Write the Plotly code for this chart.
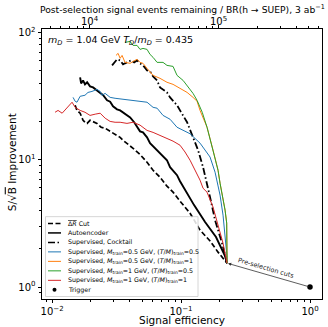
import numpy as np
import plotly.graph_objects as go

# ---------------- data ----------------
dr_cut_eff = [0.0151, 0.0156, 0.0165, 0.0174, 0.0180, 0.0187, 0.0197, 0.0208, 0.0223, 0.0240,
              0.0258, 0.0282, 0.0297, 0.0319, 0.0337, 0.0355, 0.0381, 0.0425, 0.0481, 0.0545,
              0.0607, 0.0687, 0.0778, 0.0867, 0.0982, 0.1175, 0.1404, 0.1679, 0.1936, 0.2195, 0.2275]
dr_cut_sig = [26.8, 24.4, 23.2, 20.4, 19.7, 19.3, 20.4, 20.0, 19.3, 18.0,
              17.7, 16.7, 16.2, 15.6, 15.0, 14.2, 13.5, 12.3, 11.0, 9.55,
              8.27, 7.29, 6.20, 5.56, 4.73, 3.80, 2.80, 2.30, 1.88, 1.63, 1.54]

autoenc_eff = [0.0165, 0.0168, 0.0174, 0.0180, 0.0187, 0.0197, 0.0208, 0.0223, 0.0236, 0.0249,
               0.0267, 0.0282, 0.0297, 0.0319, 0.0337, 0.0355, 0.0381, 0.0403, 0.0433, 0.0456,
               0.0481, 0.0507, 0.0545, 0.0575, 0.0607, 0.0652, 0.0687, 0.0778, 0.0822, 0.0931,
               0.0982, 0.1114, 0.1262, 0.1536, 0.1867, 0.2195, 0.2275]
autoenc_sig = [44.4, 39.8, 42.0, 39.1, 40.6, 37.7, 37.0, 35.1, 33.2, 32.1,
               29.3, 28.6, 26.3, 24.9, 24.4, 23.6, 22.3, 21.5, 19.7, 18.0,
               16.7, 16.4, 15.0, 13.5, 12.8, 11.9, 11.2, 9.91, 8.73, 7.56,
               6.78, 5.46, 4.40, 3.24, 2.47, 1.75, 1.54]

cocktail_eff = [0.0292, 0.0308, 0.0319, 0.0337, 0.0355, 0.0368, 0.0390, 0.0410, 0.0433, 0.0456,
                0.0481, 0.0507, 0.0545, 0.0575, 0.0607, 0.0652, 0.0687, 0.0778, 0.0822, 0.0931,
                0.0982, 0.1114, 0.1239, 0.1355, 0.1482, 0.1591, 0.1679, 0.1836, 0.2080, 0.2275]
cocktail_sig = [55.1, 58.2, 61.5, 60.3, 56.1, 57.2, 59.2, 60.3, 58.2, 60.3,
                57.2, 55.1, 50.3, 49.4, 45.2, 42.0, 37.0, 33.8, 30.9, 26.8,
                24.4, 19.7, 15.0, 11.9, 8.73, 6.54, 5.08, 3.35, 2.21, 1.54]

m05_t05_eff = [0.01455, 0.0151, 0.0156, 0.0165, 0.0180, 0.0190, 0.0204, 0.0223, 0.0236, 0.0244,
               0.0258, 0.0282, 0.0308, 0.0355, 0.0403, 0.0481, 0.0545, 0.0607, 0.0652, 0.0725,
               0.0822, 0.0931, 0.1037, 0.1175, 0.1404, 0.1679, 0.1836, 0.2007, 0.2117, 0.2195,
               0.2265, 0.2275]
m05_t05_sig = [30.9, 28.8, 28.3, 31.5, 32.1, 33.8, 34.4, 35.7, 34.4, 32.1,
               33.2, 30.9, 30.4, 29.8, 29.3, 28.8, 28.3, 25.8, 25.4, 22.3,
               20.8, 18.0, 17.0, 16.0, 13.5, 10.5, 7.98, 5.27, 3.67, 2.56,
               1.78, 1.54]

m05_t1_eff = [0.0313, 0.0325, 0.0337, 0.0349, 0.0368, 0.0403, 0.0425, 0.0456, 0.0481, 0.0507,
              0.0545, 0.0607, 0.0687, 0.0778, 0.0867, 0.0982, 0.1114, 0.1239, 0.1331, 0.1404,
              0.1510, 0.1591, 0.1771, 0.1936, 0.2007, 0.2117, 0.2195, 0.2260, 0.2270, 0.2275]
m05_t1_sig = [66.0, 68.5, 62.6, 66.0, 58.2, 57.2, 59.2, 61.5, 58.2, 57.2,
              52.2, 46.0, 43.6, 40.6, 39.1, 36.4, 33.8, 30.9, 28.8, 24.4,
              20.4, 18.0, 11.9, 8.27, 6.54, 5.08, 4.02, 3.18, 1.95, 1.54]

m1_t05_eff = [0.0368, 0.0403, 0.0425, 0.0456, 0.0481, 0.0507, 0.0545, 0.0575, 0.0607, 0.0652,
              0.0725, 0.0778, 0.0867, 0.0931, 0.1037, 0.1114, 0.1239, 0.1331, 0.1460, 0.1591,
              0.1771, 0.1936, 0.2007, 0.2117, 0.2195, 0.2260, 0.2270, 0.2275]
m1_t05_sig = [83.5, 85.0, 79.1, 79.1, 73.6, 74.9, 73.6, 67.2, 63.7, 58.2,
              58.2, 55.1, 54.1, 46.0, 42.0, 38.4, 33.2, 29.3, 23.6, 18.0,
              11.9, 8.27, 6.54, 5.08, 4.02, 3.18, 1.95, 1.54]

m1_t1_eff = [0.01055, 0.01113, 0.01197, 0.01306, 0.01429, 0.0151, 0.0165, 0.0180, 0.0197, 0.0216,
             0.0236, 0.0258, 0.0282, 0.0308, 0.0337, 0.0381, 0.0425, 0.0481, 0.0545, 0.0607,
             0.0687, 0.0778, 0.0867, 0.0982, 0.1074, 0.1175, 0.1285, 0.1404, 0.1482, 0.1591,
             0.1771, 0.1936, 0.2117, 0.2275]
m1_t1_sig = [23.6, 24.4, 23.2, 25.4, 28.3, 25.8, 24.4, 23.6, 22.3, 22.8,
             23.2, 21.2, 20.0, 19.7, 19.7, 19.3, 19.7, 18.7, 17.0, 16.4,
             15.6, 14.8, 14.0, 13.0, 11.5, 9.91, 8.27, 6.91, 5.97, 5.56,
             4.24, 3.06, 2.21, 1.54]

trigger_eff = [1.0]
trigger_sig = [1.0]
preselection_eff = 0.2275
preselection_sig = 1.54
events_at_full_eff = 5.12e5   # signal events / BR at efficiency 1

x_tick_vals = [0.01, 0.1, 1.0]
x_tick_text = ["10<sup>−2</sup>", "10<sup>−1</sup>", "10<sup>0</sup>"]
y_tick_vals = [1, 10, 100]
y_tick_text = ["10<sup>0</sup>", "10<sup>1</sup>", "10<sup>2</sup>"]
top_tick_vals = [1e4, 1e5]
top_tick_text = ["10<sup>4</sup>", "10<sup>5</sup>"]

x_title = "Signal efficiency"
y_title = "S/√<span style='text-decoration:overline'>B</span> Improvement"
top_title = "Post-selection signal events remaining / BR(h → SUEP), 3 ab<sup>−1</sup>"
param_text = "<i>m<sub>D</sub></i> = 1.04 GeV <i>T<sub>D</sub></i>/<i>m<sub>D</sub></i> = 0.435"

legend_labels = [
    "<span style='text-decoration:overline'>Δ<i>R</i></span> Cut",
    "Autoencoder",
    "Supervised, Cocktail",
    "Supervised, <i>M</i><sub>train</sub>=0.5 GeV, (<i>T</i>/<i>M</i>)<sub>train</sub>=0.5",
    "Supervised, <i>M</i><sub>train</sub>=0.5 GeV, (<i>T</i>/<i>M</i>)<sub>train</sub>=1",
    "Supervised, <i>M</i><sub>train</sub>=1 GeV, (<i>T</i>/<i>M</i>)<sub>train</sub>=0.5",
    "Supervised, <i>M</i><sub>train</sub>=1 GeV, (<i>T</i>/<i>M</i>)<sub>train</sub>=1",
    "Trigger",
]

# ---------------- styles ----------------
FONT = "DejaVu Sans"
BLUE, ORANGE, GREEN, RED = "#1f77b4", "#ff7f0e", "#2ca02c", "#d62728"
DASH = "5px,2.5px"
DASHDOT = "7px,2.5px,1.5px,2.5px"

curves = [
    (dr_cut_eff, dr_cut_sig, "black", 1.7, DASH),
    (autoenc_eff, autoenc_sig, "black", 1.9, "solid"),
    (cocktail_eff, cocktail_sig, "black", 1.8, DASHDOT),
    (m05_t05_eff, m05_t05_sig, BLUE, 1.0, "solid"),
    (m05_t1_eff, m05_t1_sig, ORANGE, 1.0, "solid"),
    (m1_t05_eff, m1_t05_sig, GREEN, 1.0, "solid"),
    (m1_t1_eff, m1_t1_sig, RED, 1.0, "solid"),
]

W, H = 328, 327
ML, MR, MT, MB = 42, 6, 28.5, 28
PW, PH = W - ML - MR, H - MT - MB
X_RANGE = [-2.078, 0.093]
Y_RANGE = [-0.094, 2.027]
TOP_RANGE = [r + np.log10(events_at_full_eff) for r in X_RANGE]


def px_x(p):
    return (p - ML) / PW


def px_y(p):
    return (H - MB - p) / PH


def minor_vals(lo, hi):
    return [m * 10.0 ** e for e in range(lo, hi) for m in range(2, 10)]


fig = go.Figure()
for xs, ys, color, width, dash in curves:
    fig.add_trace(go.Scatter(x=xs, y=ys, mode="lines",
                             line=dict(color=color, width=width, dash=dash),
                             showlegend=False, hoverinfo="skip"))
fig.add_trace(go.Scatter(x=trigger_eff, y=trigger_sig, mode="markers",
                         marker=dict(color="black", size=5.5),
                         showlegend=False, hoverinfo="skip"))
# invisible trace to activate the top (events) axis
fig.add_trace(go.Scatter(x=[e * events_at_full_eff for e in trigger_eff], y=trigger_sig,
                         xaxis="x2", mode="markers", marker=dict(opacity=0, size=1),
                         showlegend=False, hoverinfo="skip"))

axis_common = dict(
    type="log", ticks="outside", ticklen=3.5, tickwidth=0.8, tickcolor="black",
    showgrid=False, zeroline=False, automargin=False,
    tickfont=dict(family=FONT, size=10, color="black"),
)

fig.update_layout(
    width=W, height=H,
    margin=dict(l=ML, r=MR, t=MT, b=MB, pad=0),
    paper_bgcolor="white", plot_bgcolor="white",
    font=dict(family=FONT, color="black"),
    xaxis=dict(
        **axis_common, range=X_RANGE, tickmode="array",
        tickvals=x_tick_vals, ticktext=x_tick_text,
        showline=True, linecolor="black", linewidth=0.9, mirror=True,
        minor=dict(ticks="outside", ticklen=2, tickwidth=0.6, tickcolor="black",
                   tickmode="array", tickvals=minor_vals(-3, 1), showgrid=False),
    ),
    xaxis2=dict(
        **axis_common, range=TOP_RANGE, overlaying="x", side="top", anchor="y",
        tickmode="array", tickvals=top_tick_vals, showticklabels=False,
        showline=False,
        minor=dict(ticks="outside", ticklen=2, tickwidth=0.6, tickcolor="black",
                   tickmode="array", tickvals=minor_vals(3, 6), showgrid=False),
    ),
    yaxis=dict(
        **axis_common, range=Y_RANGE, tickmode="array",
        tickvals=y_tick_vals, ticktext=y_tick_text,
        showline=True, linecolor="black", linewidth=0.9, mirror=True,
        minor=dict(ticks="outside", ticklen=2, tickwidth=0.6, tickcolor="black",
                   tickmode="array", tickvals=minor_vals(-1, 3), showgrid=False),
    ),
)

# top-axis tick labels placed explicitly (below the title)
for v, t in zip(top_tick_vals, top_tick_text):
    fig.add_annotation(x=np.log10(v), y=px_y(20.5), xref="x2", yref="paper",
                       xanchor="center", yanchor="middle", text=t, showarrow=False,
                       font=dict(family=FONT, size=10, color="black"))

# axis titles as annotations (precise placement)
fig.add_annotation(x=px_x(182), y=px_y(320), xref="paper", yref="paper",
                   xanchor="center", yanchor="middle", text=x_title, showarrow=False,
                   font=dict(family=FONT, size=10.5, color="black"))
fig.add_annotation(x=px_x(12), y=px_y(162), xref="paper", yref="paper",
                   xanchor="center", yanchor="middle", text=y_title, textangle=-90,
                   showarrow=False, font=dict(family=FONT, size=10.5, color="black"))
fig.add_annotation(x=px_x(182), y=px_y(8.5), xref="paper", yref="paper",
                   xanchor="center", yanchor="middle", text=top_title, showarrow=False,
                   font=dict(family=FONT, size=9.2, color="black"))

# arrow: trigger -> pre-selection point
fig.add_annotation(
    x=np.log10(preselection_eff), y=np.log10(preselection_sig),
    ax=np.log10(trigger_eff[0]), ay=np.log10(trigger_sig[0]),
    xref="x", yref="y", axref="x", ayref="y", text="",
    showarrow=True, arrowhead=2, arrowsize=0.8, arrowwidth=0.8,
    arrowcolor="#333333", standoff=1, startstandoff=0,
)
fig.add_annotation(
    x=(np.log10(preselection_eff) + np.log10(trigger_eff[0])) / 2,
    y=(np.log10(preselection_sig) + np.log10(trigger_sig[0])) / 2,
    xref="x", yref="y", text="Pre-selection cuts", showarrow=False,
    textangle=16.1, xshift=-3, yshift=7,
    font=dict(family=FONT, size=6.5, color="#222222"),
)

# model parameters text
fig.add_annotation(
    x=px_x(46), y=px_y(40), xref="paper", yref="paper", xanchor="left", yanchor="middle",
    text=param_text, showarrow=False, font=dict(family=FONT, size=9.5, color="black"),
)

# ---------------- manual legend ----------------
LEG_X0, LEG_X1, LEG_Y0, LEG_Y1 = 45.5, 198, 216.5, 296.5
fig.add_shape(type="rect", xref="paper", yref="paper",
              x0=px_x(LEG_X0), x1=px_x(LEG_X1), y0=px_y(LEG_Y1), y1=px_y(LEG_Y0),
              line=dict(color="#cccccc", width=0.8), fillcolor="rgba(255,255,255,0.85)",
              layer="above")
handle_styles = [(c[2], min(c[3], 1.5), c[4]) for c in curves]
row_y0, row_dy = 223.3, 9.5
for i, label in enumerate(legend_labels):
    yy = px_y(row_y0 + i * row_dy)
    if i < len(handle_styles):
        color, width, dash = handle_styles[i]
        fig.add_shape(type="line", xref="paper", yref="paper",
                      x0=px_x(48), x1=px_x(61), y0=yy, y1=yy,
                      line=dict(color=color, width=width, dash=dash), layer="above")
    else:
        r = 2.0
        fig.add_shape(type="circle", xref="paper", yref="paper",
                      x0=px_x(54.5 - r), x1=px_x(54.5 + r),
                      y0=yy - r / PH, y1=yy + r / PH,
                      line=dict(color="black", width=0), fillcolor="black", layer="above")
    fig.add_annotation(x=px_x(65.5), y=yy, xref="paper", yref="paper",
                       xanchor="left", yanchor="middle", text=label, showarrow=False,
                       font=dict(family=FONT, size=6.3, color="black"))

fig.write_html("out.html")
